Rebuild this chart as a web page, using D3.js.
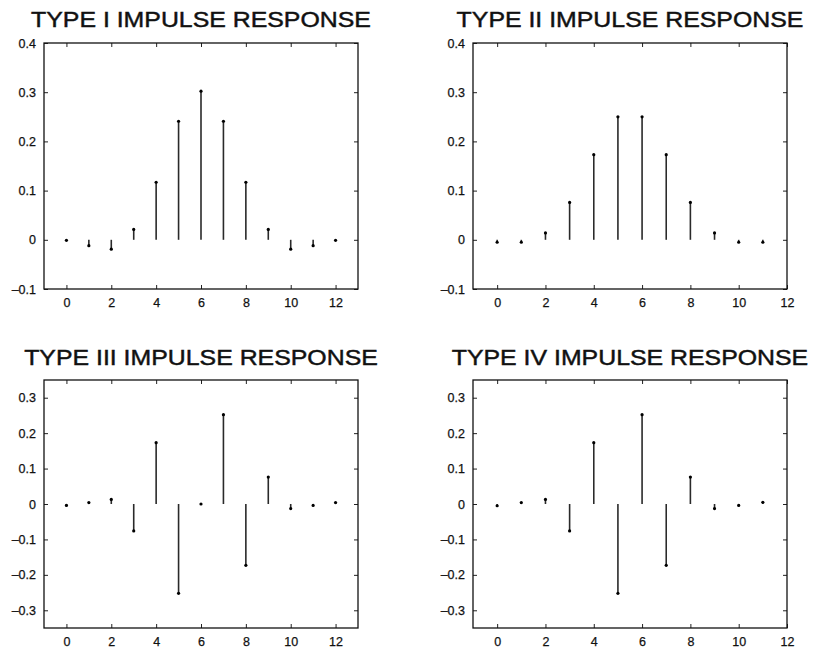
<!DOCTYPE html>
<html>
<head>
<meta charset="utf-8">
<script src="https://cdn.jsdelivr.net/npm/d3@7"></script>
<style>
  html, body { margin: 0; padding: 0; background: #fff; }
  svg { display: block; }
  text { font-family: "Liberation Sans", Arial, Helvetica, sans-serif; fill: #111; }
</style>
</head>
<body>
<svg id="chart" width="817" height="657"></svg>
<script>
// ---------- DATA ----------
const panelTitles = [
  "TYPE I IMPULSE RESPONSE",
  "TYPE II IMPULSE RESPONSE",
  "TYPE III IMPULSE RESPONSE",
  "TYPE IV IMPULSE RESPONSE"
];
// impulse response values h[n], n = 0..N-1
const typeI   = [-0.001, -0.012, -0.019, 0.021, 0.117, 0.241, 0.302, 0.241, 0.117, 0.021, -0.019, -0.012, -0.001];
const typeII  = [-0.005, -0.005, 0.014, 0.076, 0.173, 0.250, 0.250, 0.173, 0.076, 0.014, -0.005, -0.005];
const typeIII = [-0.004, 0.004, 0.013, -0.076, 0.173, -0.252, 0.000, 0.252, -0.173, 0.076, -0.013, -0.004, 0.004];
const typeIV  = [-0.005, 0.004, 0.013, -0.076, 0.173, -0.252, 0.252, -0.173, 0.076, -0.013, -0.004, 0.005];

const xTickValues = [0, 2, 4, 6, 8, 10, 12];
const yTicksTopRow = [-0.1, 0, 0.1, 0.2, 0.3, 0.4];
const yTicksBottomRow = [-0.3, -0.2, -0.1, 0, 0.1, 0.2, 0.3];
const xDomainOdd = [-1, 13];   // length-13 filters
const xDomainEven = [-1, 12];  // length-12 filters
const yDomainTopRow = [-0.1, 0.4];
const yDomainBottomRow = [-0.35, 0.35];

// ---------- LAYOUT ----------
const panels = [
  { title: panelTitles[0], data: typeI,   xd: xDomainOdd,  yd: yDomainTopRow,    yt: yTicksTopRow,    box: { x0: 44,  x1: 358, y0: 43,  y1: 289 }, titleY: 27 },
  { title: panelTitles[1], data: typeII,  xd: xDomainEven, yd: yDomainTopRow,    yt: yTicksTopRow,    box: { x0: 473, x1: 787, y0: 43,  y1: 289 }, titleY: 27 },
  { title: panelTitles[2], data: typeIII, xd: xDomainOdd,  yd: yDomainBottomRow, yt: yTicksBottomRow, box: { x0: 44,  x1: 358, y0: 380, y1: 628 }, titleY: 365 },
  { title: panelTitles[3], data: typeIV,  xd: xDomainEven, yd: yDomainBottomRow, yt: yTicksBottomRow, box: { x0: 473, x1: 787, y0: 380, y1: 628 }, titleY: 365 }
];

const svg = d3.select("#chart");
const fmt = d => d === 0 ? "0" : (d < 0 ? "\u2013" : "") + Math.abs(d).toFixed(1);
const tickLen = 4;

panels.forEach(p => {
  const b = p.box;
  const x = d3.scaleLinear().domain(p.xd).range([b.x0, b.x1]);
  const y = d3.scaleLinear().domain(p.yd).range([b.y1, b.y0]);
  const g = svg.append("g");

  const styleAxis = sel => {
    sel.attr("font-size", null).attr("font-family", null);
    sel.select(".domain").remove();
    sel.selectAll(".tick line").attr("stroke", "#222").attr("stroke-width", 1);
    sel.selectAll(".tick text")
      .attr("font-size", 12.5)
      .style("font-size", "12.5px")
      .attr("fill", "#111")
      .attr("stroke", "#111").attr("stroke-width", 0.25);
  };
  g.append("g").attr("transform", `translate(0,${b.y1})`)
    .call(d3.axisBottom(x).tickValues(xTickValues).tickSize(-tickLen).tickPadding(9).tickFormat(d3.format("d")))
    .call(styleAxis);
  g.append("g").attr("transform", `translate(0,${b.y0})`)
    .call(d3.axisTop(x).tickValues(xTickValues).tickSize(-tickLen).tickFormat(""))
    .call(styleAxis);
  g.append("g").attr("transform", `translate(${b.x0},0)`)
    .call(d3.axisLeft(y).tickValues(p.yt).tickSize(-tickLen).tickPadding(8).tickFormat(fmt))
    .call(styleAxis);
  g.append("g").attr("transform", `translate(${b.x1},0)`)
    .call(d3.axisRight(y).tickValues(p.yt).tickSize(-tickLen).tickFormat(""))
    .call(styleAxis);

  // frame
  g.append("rect")
    .attr("x", b.x0).attr("y", b.y0)
    .attr("width", b.x1 - b.x0).attr("height", b.y1 - b.y0)
    .attr("fill", "none").attr("stroke", "#111").attr("stroke-width", 1.3);

  // stems
  g.selectAll("line.stem").data(p.data).enter().append("line")
    .attr("class", "stem")
    .attr("x1", (d, i) => x(i)).attr("x2", (d, i) => x(i))
    .attr("y1", y(0)).attr("y2", d => y(d))
    .attr("stroke", "#2a2a2a").attr("stroke-width", 1.6);
  g.selectAll("circle.mk").data(p.data).enter().append("circle")
    .attr("class", "mk")
    .attr("cx", (d, i) => x(i)).attr("cy", d => y(d))
    .attr("r", 1.6).attr("fill", "#000");

  // title
  const t = svg.append("text")
    .attr("x", (b.x0 + b.x1) / 2).attr("y", p.titleY)
    .attr("text-anchor", "middle")
    .style("font-size", "22px")
    .attr("stroke", "#111").attr("stroke-width", 0.45)
    .text(p.title);
  const w = t.node().getComputedTextLength();
  t.attr("textLength", w * 1.13).attr("lengthAdjust", "spacingAndGlyphs");
});
</script>
</body>
</html>
